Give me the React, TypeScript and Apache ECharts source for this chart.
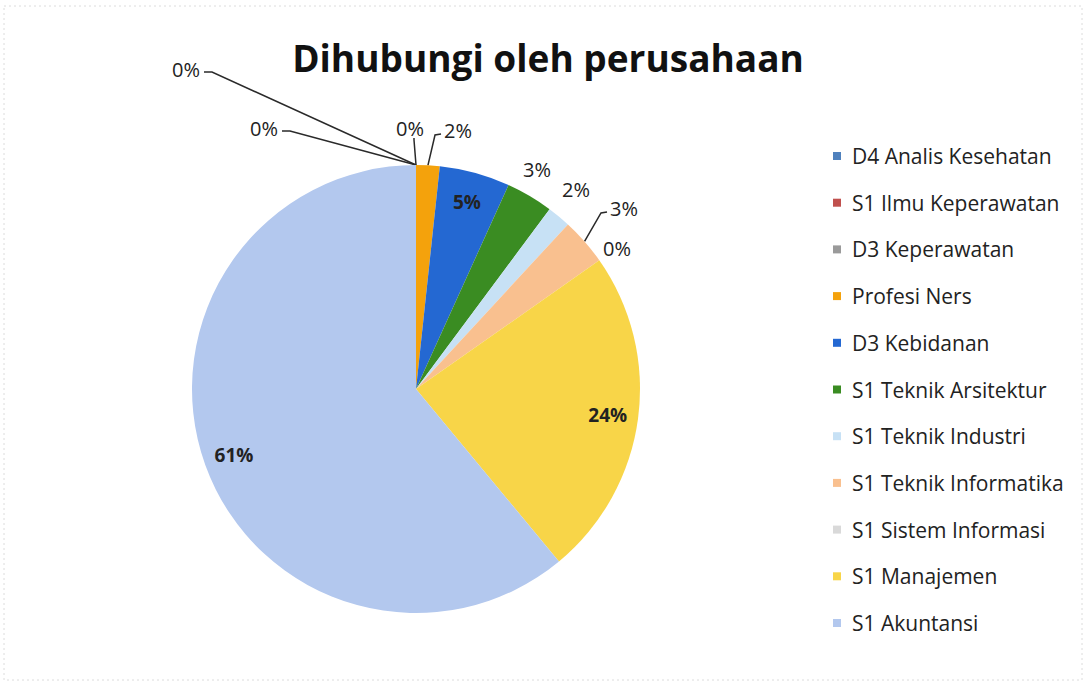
import React, { useEffect, useRef } from "react";
import * as echarts from "echarts";

const titleText = "Dihubungi oleh perusahaan";
const categories = [
  "D4 Analis Kesehatan",
  "S1 Ilmu Keperawatan",
  "D3 Keperawatan",
  "Profesi Ners",
  "D3 Kebidanan",
  "S1 Teknik Arsitektur",
  "S1 Teknik Industri",
  "S1 Teknik Informatika",
  "S1 Sistem Informasi",
  "S1 Manajemen",
  "S1 Akuntansi",
];
const values = [0, 0, 0, 1, 3, 2, 1, 2, 0, 14, 36];
const colors = [
  "#4F81BD",
  "#C0504D",
  "#9A9A9A",
  "#F4A20C",
  "#2468D2",
  "#3A8C22",
  "#C7E1F5",
  "#F9C08F",
  "#D9D9D9",
  "#F8D548",
  "#B3C8EE",
];
const insideLabels = ["D3 Kebidanan", "S1 Manajemen", "S1 Akuntansi"];

// Label placement (layout only): centre of each outside label and where its leader leaves it
const labelSpots: Record<string, { x: number; y: number; line: "left" | "right" | "bottom" | "none" }> = {
  "D4 Analis Kesehatan": { x: 186, y: 69, line: "right" },
  "S1 Ilmu Keperawatan": { x: 264, y: 128, line: "right" },
  "D3 Keperawatan": { x: 410, y: 128, line: "bottom" },
  "Profesi Ners": { x: 458, y: 130, line: "left" },
  "S1 Teknik Arsitektur": { x: 537, y: 169, line: "none" },
  "S1 Teknik Industri": { x: 576, y: 189, line: "none" },
  "S1 Teknik Informatika": { x: 624, y: 208, line: "left" },
  "S1 Sistem Informasi": { x: 617, y: 248, line: "none" },
};

const FONT = "'Open Sans', Lato, sans-serif";
const CX = 416;
const CY = 389;
const R = 224;

export default function App() {
  const ref = useRef<HTMLDivElement>(null);
  useEffect(() => {
    document.body.style.margin = "0";
    const chart = echarts.init(ref.current!, null, { renderer: "svg" });
    const data = categories.map((name, i) => ({
      name,
      value: values[i],
      itemStyle: { color: colors[i] },
    }));
    const total = values.reduce((a, b) => a + b, 0);

    const edgePoint = (idx: number): number[] => {
      let before = 0;
      for (let k = 0; k < idx; k++) before += values[k];
      const mid = ((before + values[idx] / 2) / total) * Math.PI * 2;
      return [CX + R * Math.sin(mid), CY - R * Math.cos(mid)];
    };

    chart.setOption({
      animation: false,
      backgroundColor: "#ffffff",
      title: {
        text: titleText,
        left: 543,
        top: 34,
        textAlign: "center",
        textStyle: {
          fontFamily: FONT,
          fontWeight: "bold",
          fontSize: 37,
          color: "#111111",
        },
      },
      legend: {
        orient: "vertical",
        left: 828,
        top: 140,
        itemWidth: 8,
        itemHeight: 8,
        itemGap: 24.7,
        icon: "rect",
        data: categories,
        textStyle: {
          fontFamily: FONT,
          fontSize: 21,
          lineHeight: 22,
          color: "#222222",
          padding: [0, 0, 0, 6],
        },
      },
      graphic: [
        {
          type: "rect",
          shape: { x: 4, y: 6, width: 1078, height: 674 },
          style: { fill: "none", stroke: "#dcdcdc", lineWidth: 1, lineDash: [2, 3] },
          silent: true,
        },
      ],
      series: [
        {
          type: "pie",
          center: [CX, CY],
          radius: R,
          startAngle: 90,
          clockwise: true,
          percentPrecision: 0,
          avoidLabelOverlap: false,
          data: data.map((d) => {
            const inside = insideLabels.includes(d.name);
            const spot = labelSpots[d.name];
            return {
              ...d,
              label: inside ? { show: false } : undefined,
              labelLine: inside || (spot && spot.line === "none") ? { show: false } : undefined,
            };
          }),
          label: {
            show: true,
            position: "outside",
            formatter: "{d}%",
            fontFamily: FONT,
            fontSize: 20,
            color: "#222222",
          },
          labelLine: {
            show: true,
            length: 10,
            length2: 10,
            lineStyle: { color: "#2a2a2a", width: 1.5 },
          },
          labelLayout: (params: any) => {
            const name = categories[params.dataIndex];
            const spot = labelSpots[name];
            if (!spot) return {};
            const hw = params.labelRect ? params.labelRect.width / 2 : 14;
            const start =
              params.labelLinePoints && params.labelLinePoints[0]
                ? params.labelLinePoints[0]
                : edgePoint(params.dataIndex);
            let pts: number[][] | undefined;
            if (spot.line === "right") {
              const end = [spot.x + hw + 4, spot.y + 3];
              pts = [start, [end[0] + 8, end[1]], end];
            } else if (spot.line === "left") {
              const end = [spot.x - hw - 3, spot.y + 4];
              pts = [start, [end[0] - 6, end[1] + 1], end];
            } else if (spot.line === "bottom") {
              const end = [start[0] - 2, spot.y + 10];
              pts = [start, [end[0], end[1] + 2], end];
            }
            const out: any = {
              x: spot.x,
              y: spot.y,
              align: "center",
              verticalAlign: "middle",
            };
            if (pts) out.labelLinePoints = pts;
            return out;
          },
        },
        {
          type: "pie",
          center: [CX, CY],
          radius: [157, R],
          startAngle: 90,
          clockwise: true,
          percentPrecision: 0,
          silent: true,
          data: data.map((d) => ({
            name: d.name,
            value: d.value,
            itemStyle: { color: "rgba(0,0,0,0)" },
            label: { show: insideLabels.includes(d.name) },
          })),
          label: {
            position: "inside",
            formatter: "{d}%",
            fontFamily: FONT,
            fontSize: 19,
            fontWeight: "bold",
            color: "#222222",
          },
          labelLine: { show: false },
        },
      ],
    });
    return () => chart.dispose();
  }, []);
  return <div ref={ref} style={{ width: 1086, height: 684 }} />;
}
